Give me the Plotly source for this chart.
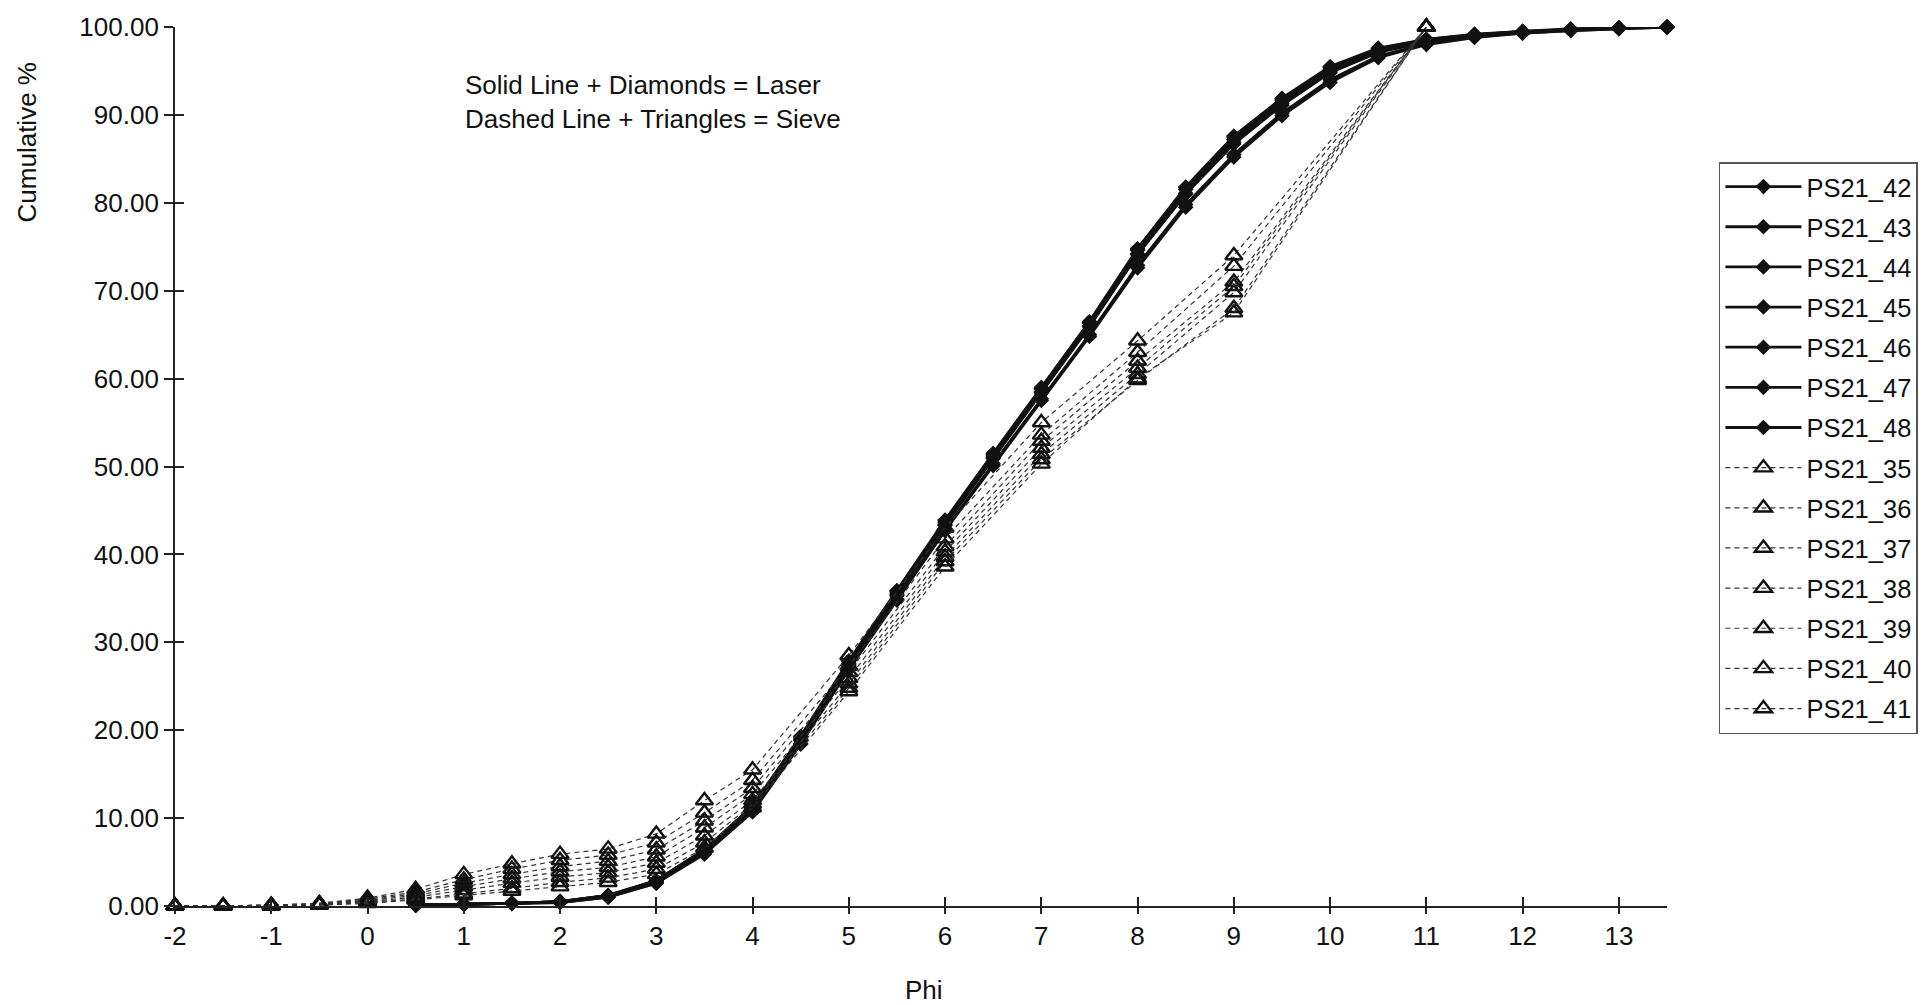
import plotly.graph_objects as go

# ---------------- data ----------------
laser_phi = [0.5, 1, 1.5, 2, 2.5, 3, 3.5, 4, 4.5, 5, 5.5, 6, 6.5, 7, 7.5, 8, 8.5,
             9, 9.5, 10, 10.5, 11, 11.5, 12, 12.5, 13, 13.5]
PS21_42 = [0.1, 0.2, 0.3, 0.5, 1.2, 2.8, 6.3, 11.2, 19.0, 27.6, 35.6, 43.6, 51.2, 58.8, 66.3, 74.6, 81.5, 87.2, 91.6, 95.2, 97.4, 98.5, 99.1, 99.5, 99.7, 99.9, 100]
PS21_43 = [0.1, 0.2, 0.3, 0.5, 1.1, 2.7, 6.1, 11.0, 18.8, 27.4, 35.3, 43.3, 50.9, 58.4, 65.9, 74.1, 81.0, 86.7, 91.1, 94.8, 97.1, 98.3, 99.0, 99.4, 99.7, 99.9, 100]
PS21_44 = [0.1, 0.2, 0.3, 0.5, 1.2, 2.9, 6.4, 11.4, 19.3, 27.9, 35.9, 43.9, 51.5, 59.0, 66.5, 74.8, 81.8, 87.6, 91.9, 95.5, 97.6, 98.6, 99.2, 99.5, 99.8, 99.9, 100]
PS21_45 = [0.1, 0.2, 0.3, 0.4, 1.0, 2.6, 6.0, 10.8, 18.5, 27.0, 34.9, 42.8, 50.3, 57.7, 65.0, 72.9, 79.8, 85.5, 90.2, 94.0, 96.7, 98.1, 98.9, 99.3, 99.6, 99.8, 100]
PS21_46 = [0.1, 0.2, 0.3, 0.5, 1.1, 2.8, 6.2, 11.1, 18.9, 27.5, 35.4, 43.4, 51.0, 58.5, 66.0, 74.2, 81.1, 86.9, 91.3, 94.9, 97.2, 98.4, 99.0, 99.4, 99.7, 99.9, 100]
PS21_47 = [0.1, 0.2, 0.3, 0.4, 1.0, 2.6, 5.9, 10.7, 18.4, 26.9, 34.8, 42.7, 50.1, 57.5, 64.8, 72.6, 79.5, 85.2, 89.9, 93.7, 96.5, 98.0, 98.8, 99.3, 99.6, 99.8, 100]
PS21_48 = [0.1, 0.2, 0.3, 0.5, 1.2, 2.9, 6.4, 11.3, 19.2, 27.8, 35.8, 43.8, 51.4, 58.9, 66.4, 74.7, 81.7, 87.5, 91.8, 95.4, 97.5, 98.6, 99.1, 99.5, 99.7, 99.9, 100]

sieve_phi = [-2, -1.5, -1, -0.5, 0, 0.5, 1, 1.5, 2, 2.5, 3, 3.5, 4, 5, 6, 7, 8, 9, 11]
PS21_35 = [0, 0, 0.1, 0.3, 0.9, 1.9, 3.6, 4.8, 5.9, 6.5, 8.2, 12.0, 15.5, 28.5, 43.0, 55.0, 64.3, 74.0, 100]
PS21_36 = [0, 0, 0.1, 0.3, 0.8, 1.6, 3.0, 4.2, 5.2, 5.8, 7.2, 10.6, 14.3, 27.3, 41.8, 53.6, 63.0, 72.8, 100]
PS21_37 = [0, 0, 0.1, 0.2, 0.7, 1.4, 2.6, 3.6, 4.5, 5.1, 6.4, 9.7, 13.4, 26.6, 40.9, 52.9, 62.0, 71.0, 100]
PS21_38 = [0, 0, 0.1, 0.2, 0.6, 1.2, 2.2, 3.1, 3.9, 4.4, 5.6, 8.9, 12.7, 25.9, 40.3, 52.1, 61.2, 70.5, 100]
PS21_39 = [0, 0, 0.0, 0.2, 0.5, 1.0, 1.8, 2.6, 3.3, 3.8, 4.9, 8.0, 12.0, 25.3, 39.7, 51.4, 60.5, 69.8, 100]
PS21_40 = [0, 0, 0.0, 0.1, 0.4, 0.8, 1.4, 2.0, 2.7, 3.2, 4.2, 7.2, 11.6, 24.8, 39.2, 50.8, 59.8, 68.0, 100]
PS21_41 = [0, 0, 0.0, 0.1, 0.3, 0.7, 1.2, 1.7, 2.2, 2.7, 3.6, 6.6, 11.2, 24.4, 38.6, 50.3, 60.0, 67.5, 100]

laser_names = ["PS21_42", "PS21_43", "PS21_44", "PS21_45", "PS21_46", "PS21_47", "PS21_48"]
laser_series = [PS21_42, PS21_43, PS21_44, PS21_45, PS21_46, PS21_47, PS21_48]
sieve_names = ["PS21_35", "PS21_36", "PS21_37", "PS21_38", "PS21_39", "PS21_40", "PS21_41"]
sieve_series = [PS21_35, PS21_36, PS21_37, PS21_38, PS21_39, PS21_40, PS21_41]

x_ticks = list(range(-2, 14))
x_ticktext = [str(v) for v in x_ticks]          # plain hyphen-minus, as in the original
y_ticks = list(range(0, 101, 10))

FONT = "Liberation Sans, Arial, sans-serif"

fig = go.Figure()

for name, vals in zip(laser_names, laser_series):
    fig.add_trace(go.Scatter(
        x=laser_phi, y=vals, name=name, legendgroup=name, mode="lines+markers",
        line=dict(color="#111111", width=2.8),
        marker=dict(symbol="diamond", size=12, color="#111111"),
        cliponaxis=False,
    ))

for name, vals in zip(sieve_names, sieve_series):
    fig.add_trace(go.Scatter(
        x=sieve_phi, y=vals, name=name, legendgroup=name, mode="lines+markers",
        line=dict(color="#333333", width=1.2, dash="5px,4px"),
        marker=dict(symbol="triangle-up-open", size=15, color="#111111",
                    line=dict(width=2.4, color="#111111")),
        cliponaxis=False,
    ))

# empty trace to host the overlay axes (inner half of the crossing ticks)
fig.add_trace(go.Scatter(x=[], y=[], xaxis="x2", yaxis="y2", showlegend=False,
                         hoverinfo="skip"))

axis_common = dict(showgrid=False, zeroline=False, color="#111111", automargin=False)

fig.update_layout(
    width=1922, height=997,
    paper_bgcolor="white", plot_bgcolor="white",
    margin=dict(l=167, r=260, t=19, b=99),
    font=dict(family=FONT, size=26, color="#111111"),
    xaxis=dict(range=[-2, 13.5], tickvals=x_ticks, ticktext=x_ticktext,
               ticks="outside", ticklen=6, tickwidth=1.5, tickcolor="#222",
               showline=True, linecolor="#222", linewidth=1.8,
               tickfont=dict(size=26), **axis_common),
    yaxis=dict(range=[0, 100], tickvals=y_ticks, tickformat=".2f", ticks="outside",
               ticklen=9, tickwidth=1.5, tickcolor="#222", showline=True,
               linecolor="#222", linewidth=1.8, tickfont=dict(size=26), **axis_common),
    xaxis2=dict(range=[-2, 13.5], tickvals=x_ticks, ticks="inside", ticklen=9,
                tickwidth=1.5, tickcolor="#222", showticklabels=False, showline=False,
                overlaying="x", anchor="y2", **axis_common),
    yaxis2=dict(range=[0, 100], tickvals=y_ticks, ticks="inside", ticklen=9,
                tickwidth=1.5, tickcolor="#222", showticklabels=False, showline=False,
                overlaying="y", anchor="x2", **axis_common),
    legend=dict(x=1.0348, y=0.8464, xanchor="left", yanchor="top",
                bordercolor="#555555", borderwidth=1.5, bgcolor="white",
                font=dict(size=25.5, family=FONT), tracegroupgap=4, itemwidth=76,
                traceorder="grouped"),
    showlegend=True,
)

fig.add_annotation(xref="paper", yref="paper", x=0.1933, y=0.953,
                   xanchor="left", yanchor="top", align="left", showarrow=False,
                   text="Solid Line + Diamonds = Laser<br>Dashed Line + Triangles = Sieve",
                   font=dict(size=26, family=FONT))
fig.add_annotation(xref="paper", yref="paper", x=-0.099, y=0.869,
                   xanchor="center", yanchor="middle", textangle=-90, showarrow=False,
                   text="Cumulative %", font=dict(size=26, family=FONT))
fig.add_annotation(xref="paper", yref="paper", x=0.502, y=-0.0956,
                   xanchor="center", yanchor="middle", showarrow=False,
                   text="Phi", font=dict(size=26, family=FONT))

fig.write_html("out.html")
